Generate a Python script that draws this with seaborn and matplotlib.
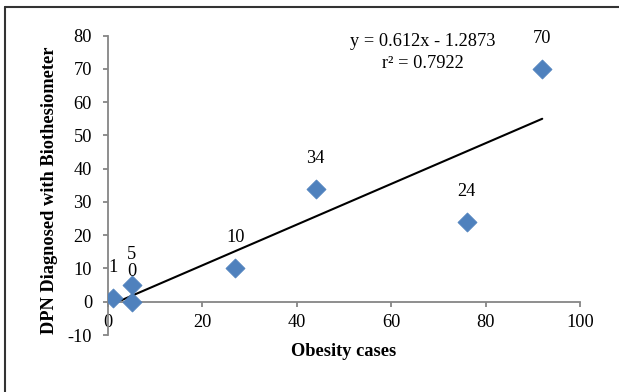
import matplotlib
matplotlib.use("Agg")
import matplotlib.pyplot as plt
import seaborn as sns
import pandas as pd
from matplotlib.lines import Line2D

obesity_cases = [1, 5, 5, 27, 44, 76, 92]
dpn_cases = [1, 5, 0, 10, 34, 24, 70]
point_labels = ["1", "5", "0", "10", "34", "24", "70"]
x_ticks = [0, 20, 40, 60, 80, 100]
y_ticks = [-10, 0, 10, 20, 30, 40, 50, 60, 70, 80]
equation_text = "y = 0.612x - 1.2873"
r2_text = "r² = 0.7922"
x_label = "Obesity cases"
y_label = "DPN Diagnosed with Biothesiometer"

df = pd.DataFrame({"x": obesity_cases, "y": dpn_cases})

sns.set_style("white")
plt.rcParams["font.family"] = ["Liberation Serif", "DejaVu Serif"]
plt.rcParams["text.color"] = "black"
plt.rcParams["axes.labelcolor"] = "black"

FS = 13.2
W, H = 619, 392
fig = plt.figure(figsize=(W / 100, H / 100), dpi=100)
ax = fig.add_axes([108 / W, 1 - 335 / H, (580 - 108) / W, (335 - 35.7) / H])

sns.regplot(data=df, x="x", y="y", ax=ax, scatter=False, ci=None,
            truncate=True, line_kws={"color": "black", "lw": 1.5})
sns.scatterplot(data=df, x="x", y="y", ax=ax, marker="D", s=95,
                color="#4F81BD", edgecolor="#4F81BD", linewidth=0.5, zorder=3)

for xv, yv, lab in zip(obesity_cases, dpn_cases, point_labels):
    ax.annotate(lab, (xv, yv), xytext=(0, 22), textcoords="offset points",
                ha="center", va="center", fontsize=FS, color="black")

ax.set_xlim(0, 100)
ax.set_ylim(-10, 80)
ax.set_xticks(x_ticks)
ax.set_yticks(y_ticks)
ax.set_xticklabels([str(v) for v in x_ticks])
ax.set_yticklabels([str(v) for v in y_ticks])

for s in ["top", "right"]:
    ax.spines[s].set_visible(False)
ax.spines["bottom"].set_position(("data", 0))
for s in ["left", "bottom"]:
    ax.spines[s].set_color("#868686")
    ax.spines[s].set_linewidth(1.3)

ax.tick_params(axis="both", which="both", direction="out", length=3.5,
               width=1.3, color="#868686", labelsize=FS, labelcolor="black",
               bottom=True, left=True)
ax.tick_params(axis="x", pad=5)
ax.tick_params(axis="y", pad=8)

ax.set_xlabel(x_label, fontsize=FS, fontweight="bold", color="black")
ax.set_ylabel(y_label, fontsize=FS, fontweight="bold", color="black")
ax.xaxis.set_label_coords(0.5, -0.027)
ax.yaxis.set_label_coords(-0.106, 0.4845)

fig.text(423 / W, 1 - 42 / H, equation_text, ha="center", va="center",
         fontsize=FS, color="black")
fig.text(423 / W, 1 - 63 / H, r2_text, ha="center", va="center",
         fontsize=FS, color="black")

# outer chart border (left and top visible)
fig.add_artist(Line2D([5 / W, 5 / W], [0, 1 - 7 / H], color="#333333", lw=1.5))
fig.add_artist(Line2D([5 / W, 1], [1 - 7 / H, 1 - 7 / H], color="#333333", lw=1.5))

fig.savefig("out.png", dpi=100)
